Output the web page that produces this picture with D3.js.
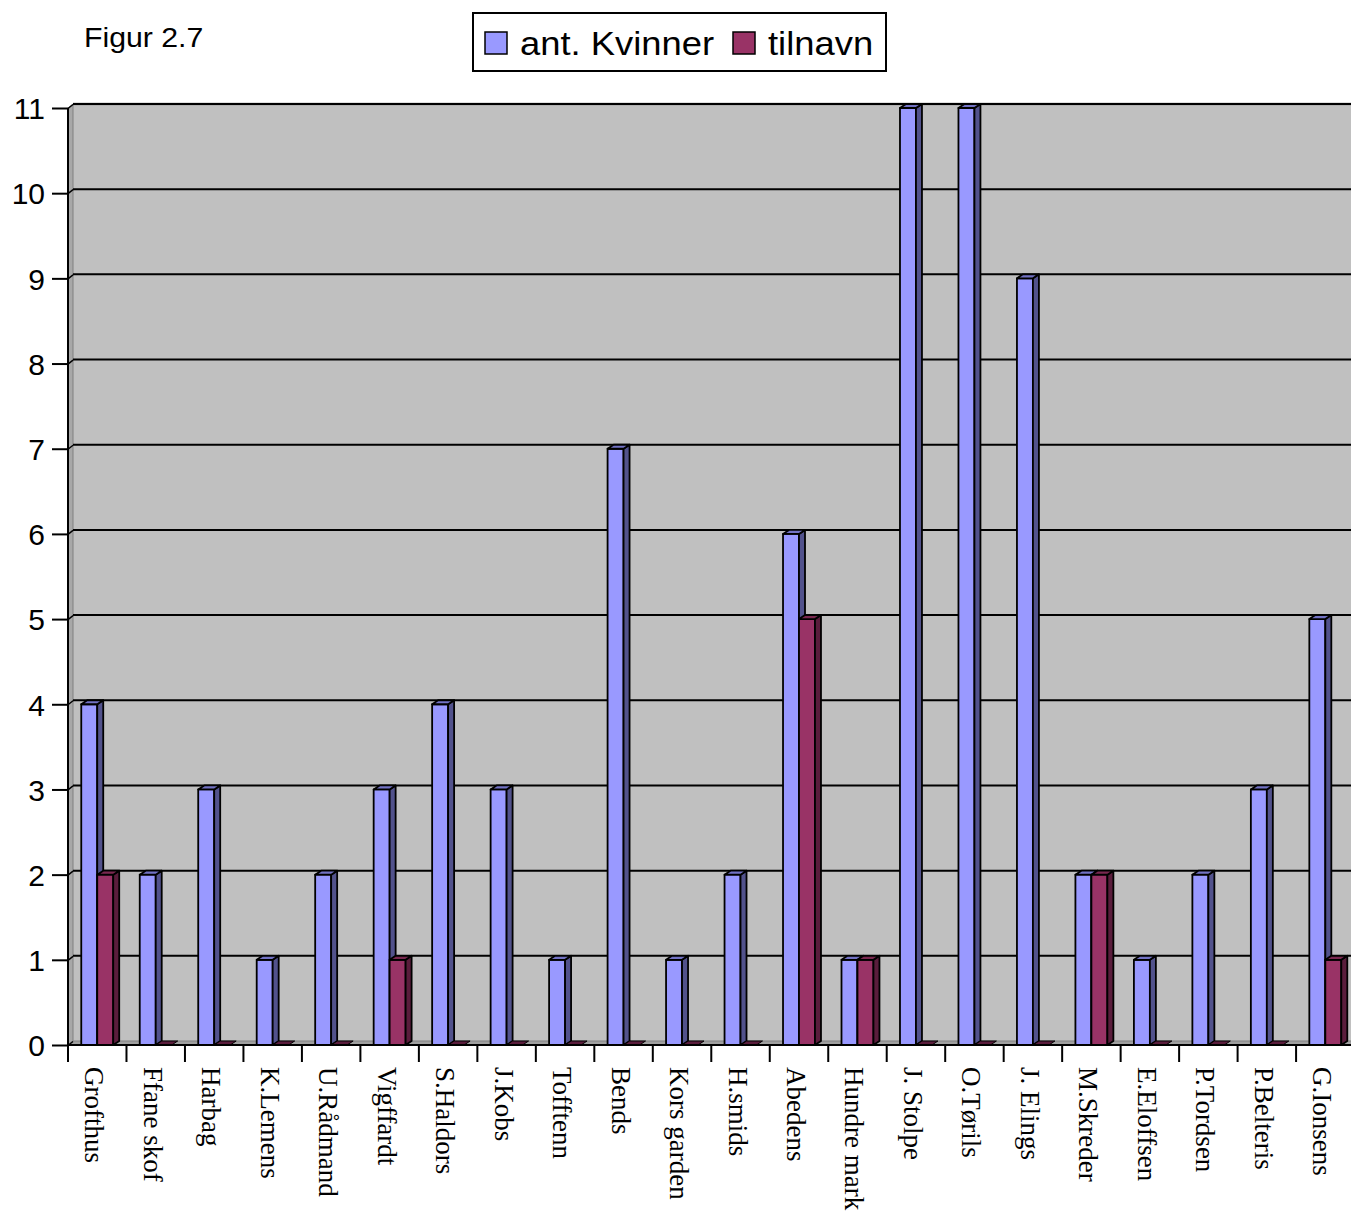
<!DOCTYPE html>
<html>
<head>
<meta charset="utf-8">
<script src="https://cdn.jsdelivr.net/npm/d3@7"></script>
<style>
  body { margin: 0; background: #fff; }
  svg { display: block; }
</style>
</head>
<body>
<div id="chart"></div>
<script>
const categories = ["Grofthus", "Ffane skof", "Harbag", "K.Lemens", "U.Rådmand", "Vigffardt",
  "S.Haldors", "J.Kobs", "Tofftenn", "Bends", "Kors garden", "H.smids", "Abedens",
  "Hundre mark", "J. Stolpe", "O.Tørils", "J. Elings", "M.Skreder", "E.Eloffsen",
  "P.Tordsen", "P.Belteris", "G.Ionsens"];
const kvinner = [4, 2, 3, 1, 2, 3, 4, 3, 1, 7, 1, 2, 6, 1, 11, 11, 9, 2, 1, 2, 3, 5];
const tilnavn = [2, 0, 0, 0, 0, 1, 0, 0, 0, 0, 0, 0, 5, 1, 0, 0, 0, 2, 0, 0, 0, 1];
const seriesNames = ["ant. Kvinner", "tilnavn"];
const yTicks = d3.range(0, 12);

const width = 1351;
const height = 1216;
const depth = { dx: 5, dy: 4 };
const barDepth = { dx: 6, dy: 4 };

const colors = {
  "ant. Kvinner": { front: "#9999ff", side: "#52528c", top: "#7272c4" },
  "tilnavn": { front: "#993366", side: "#5a1d3c", top: "#7a2850" }
};

const svg = d3.select("#chart")
  .append("svg")
  .attr("width", width)
  .attr("height", height);

const x = d3.scaleBand()
  .domain(categories)
  .range([68, 68 + 22 * 58.48]);

const xSub = d3.scaleBand()
  .domain(seriesNames)
  .range([0, x.bandwidth()])
  .paddingOuter(0.83);

const y = d3.scaleLinear()
  .domain([0, 11])
  .range([1045, 108]);

const x0 = x.range()[0];
const xEnd = width + 10;

// back wall
svg.append("rect")
  .attr("x", x0 + depth.dx)
  .attr("y", y(11) - depth.dy)
  .attr("width", xEnd - x0)
  .attr("height", y(0) - y(11))
  .attr("fill", "#c0c0c0");
svg.append("line")
  .attr("x1", x0 + depth.dx).attr("x2", xEnd)
  .attr("y1", y(11) - depth.dy).attr("y2", y(11) - depth.dy)
  .attr("stroke", "#808080").attr("stroke-width", 2.5);

// left side wall
svg.append("path")
  .attr("d", `M${x0},${y(11)}L${x0 + depth.dx},${y(11) - depth.dy}L${x0 + depth.dx},${y(0) - depth.dy}L${x0},${y(0)}Z`)
  .attr("fill", "#a8a8a8")
  .attr("stroke", "#808080")
  .attr("stroke-width", 1);

// gridlines
svg.append("g")
  .selectAll("line")
  .data(yTicks.filter(d => d > 0))
  .join("line")
    .attr("x1", x0 + depth.dx)
    .attr("x2", xEnd)
    .attr("y1", d => y(d) - depth.dy)
    .attr("y2", d => y(d) - depth.dy)
    .attr("stroke", "#000")
    .attr("stroke-width", 2);

// floor
svg.append("path")
  .attr("d", `M${x0},${y(0)}L${x0 + depth.dx},${y(0) - depth.dy}L${xEnd},${y(0) - depth.dy}L${xEnd},${y(0)}Z`)
  .attr("fill", "#a0a0a0")
  .attr("stroke", "#808080")
  .attr("stroke-width", 1);

// bars
const rows = categories.map((c, i) => ({ cat: c, vals: [kvinner[i], tilnavn[i]] }));
const bars = [];
rows.forEach(r => {
  seriesNames.forEach((s, j) => bars.push({ cat: r.cat, series: s, value: r.vals[j] }));
});

const barG = svg.append("g")
  .selectAll("g")
  .data(bars)
  .join("g")
    .attr("stroke", "#000")
    .attr("stroke-width", 1.8)
    .attr("stroke-linejoin", "round");

barG.each(function(d) {
  const g = d3.select(this);
  const bx = x(d.cat) + xSub(d.series);
  const bw = xSub.bandwidth();
  const top = y(d.value);
  const base = y(0);
  const c = colors[d.series];
  const { dx, dy } = barDepth;
  if (d.value > 0) {
    g.append("rect")
      .attr("x", bx).attr("y", top)
      .attr("width", bw).attr("height", base - top)
      .attr("fill", c.front);
    g.append("path")
      .attr("d", `M${bx + bw},${top}L${bx + bw + dx},${top - dy}L${bx + bw + dx},${base - dy}L${bx + bw},${base}Z`)
      .attr("fill", c.side);
  }
  g.append("path")
    .attr("d", `M${bx},${top}L${bx + dx},${top - dy}L${bx + bw + dx},${top - dy}L${bx + bw},${top}Z`)
    .attr("fill", d.value > 0 ? c.top : c.side)
    .attr("stroke-width", d.value > 0 ? 1.8 : 1);
});

// y axis
const yAxis = svg.append("g")
  .attr("transform", `translate(${x0},0)`)
  .call(d3.axisLeft(y).tickValues(yTicks).tickSize(16).tickSizeOuter(0).tickPadding(7));
yAxis.selectAll("path, line").attr("stroke", "#000").attr("stroke-width", 2);
yAxis.selectAll("text")
  .attr("font-family", "'Liberation Sans', Arial, sans-serif")
  .attr("font-size", 30)
  .attr("fill", "#000")
  .attr("dy", "0.36em");
yAxis.select(".domain").attr("d", `M0,${y(11)}V${y(0) + 17}`);
yAxis.selectAll(".tick")
  .append("line")
  .attr("x1", 0).attr("y1", 0)
  .attr("x2", depth.dx).attr("y2", -depth.dy)
  .attr("stroke", "#000").attr("stroke-width", 1.5);

// floor front edge + category ticks
svg.append("line")
  .attr("x1", x0).attr("x2", xEnd)
  .attr("y1", y(0)).attr("y2", y(0))
  .attr("stroke", "#000").attr("stroke-width", 2);
svg.append("g")
  .selectAll("line")
  .data(categories)
  .join("line")
    .attr("x1", d => x(d)).attr("x2", d => x(d))
    .attr("y1", y(0)).attr("y2", y(0) + 17)
    .attr("stroke", "#000")
    .attr("stroke-width", 2);

// category labels
svg.append("g")
  .selectAll("text")
  .data(categories)
  .join("text")
    .attr("transform", d => `translate(${x(d) + x.bandwidth() / 2 - 12},${y(0) + 22}) rotate(90)`)
    .attr("font-family", "'Liberation Serif', 'Times New Roman', serif")
    .attr("font-size", 27)
    .attr("fill", "#000")
    .text(d => d);

// title
svg.append("text")
  .attr("transform", "translate(84,47) scale(1.08,1)")
  .attr("font-family", "'Liberation Sans', Arial, sans-serif")
  .attr("font-size", 28)
  .attr("fill", "#000")
  .text("Figur 2.7");

// legend
const legend = svg.append("g");
legend.append("rect")
  .attr("x", 473).attr("y", 13)
  .attr("width", 413).attr("height", 58)
  .attr("fill", "#fff")
  .attr("stroke", "#000")
  .attr("stroke-width", 2);
const legendX = [485, 733];
const legendItem = legend.selectAll("g.item")
  .data(seriesNames)
  .join("g")
    .attr("class", "item")
    .attr("transform", (d, i) => `translate(${legendX[i]},32)`);
legendItem.append("rect")
  .attr("width", 22).attr("height", 22)
  .attr("fill", d => colors[d].front)
  .attr("stroke", "#000")
  .attr("stroke-width", 1.5);
legendItem.append("text")
  .attr("transform", "translate(35,23) scale(1.07,1)")
  .attr("font-family", "'Liberation Sans', Arial, sans-serif")
  .attr("font-size", 34)
  .attr("fill", "#000")
  .text(d => d);
</script>
</body>
</html>
